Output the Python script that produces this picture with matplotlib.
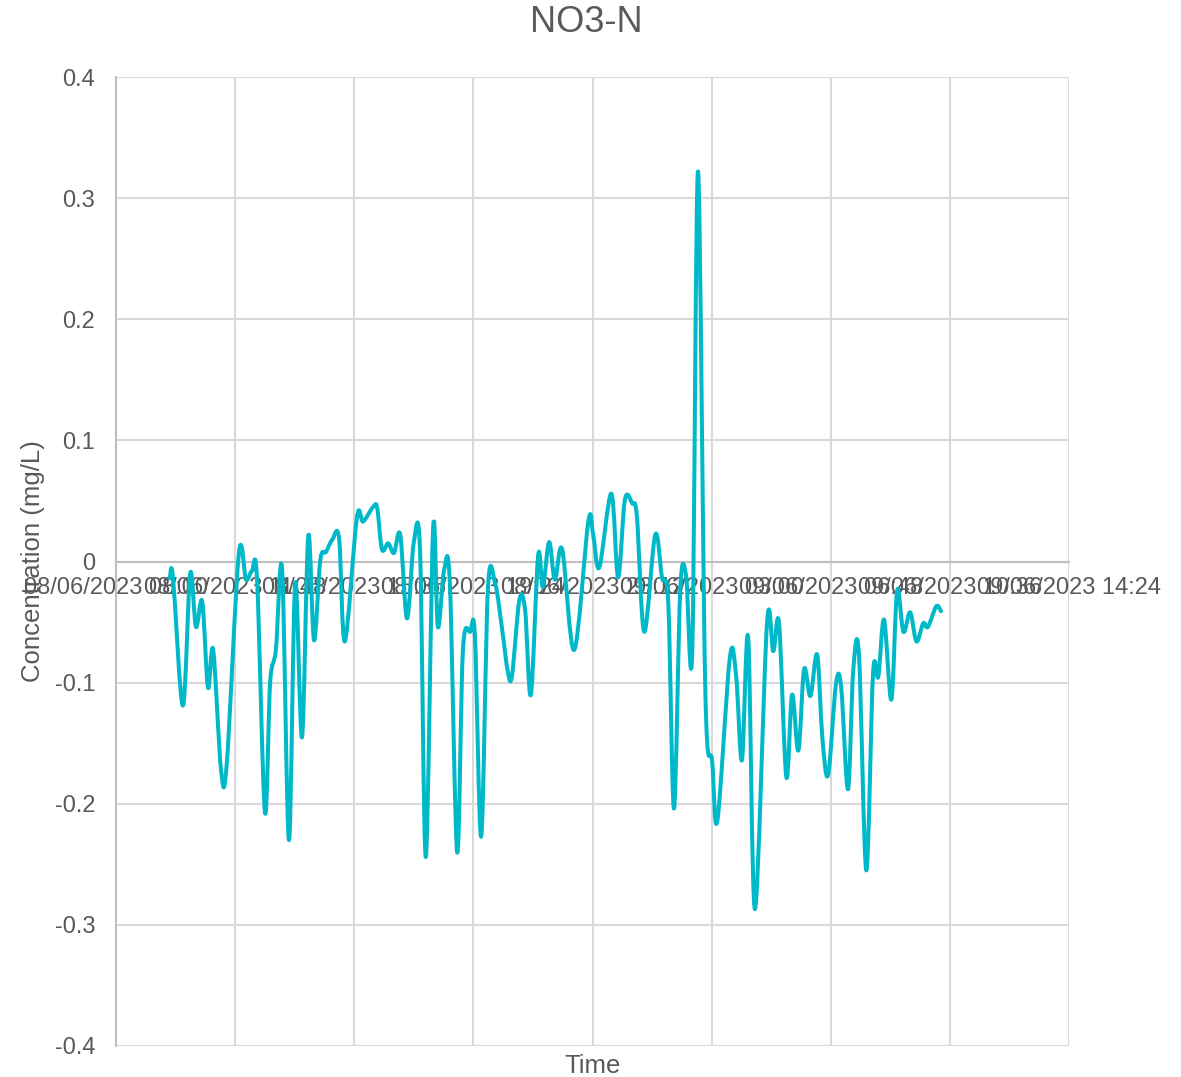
import matplotlib
matplotlib.use("Agg")
import matplotlib.pyplot as plt
import matplotlib.dates as mdates
from matplotlib.path import Path
from matplotlib.patches import PathPatch
import numpy as np
import pandas as pd

# ---- data ----
start_time = "2023-06-08 08:00"
axis_end = "2023-06-09 14:24"
minutes_after_start = [
    103, 109, 128, 142, 153, 165, 176, 186, 201, 212, 235, 249, 260, 270, 285, 295,
    306, 318, 331, 343, 356, 368, 379, 391, 402, 414, 427, 438, 461, 473, 492, 500,
    509, 521, 532, 544, 557, 570, 582, 593, 607, 616, 628, 639, 653, 664, 678, 687,
    699, 712, 726, 739, 750, 758, 772, 783, 794, 808, 817, 829, 840, 854, 877, 904,
    913, 925, 948, 961, 974, 988, 997, 1011, 1032, 1045, 1057, 1068, 1080, 1091, 1103, 1114,
    1128, 1141, 1151, 1175, 1187, 1198, 1210, 1223, 1246, 1258, 1269, 1283, 1294, 1306, 1317, 1329,
    1342, 1352, 1363, 1378, 1388, 1401, 1411, 1422, 1436, 1449, 1459, 1470, 1484, 1495, 1507, 1520,
    1532, 1545, 1554, 1570, 1579,
]
no3_n = [
    -0.014, -0.013, -0.119, -0.010, -0.054, -0.033, -0.104, -0.073, -0.172, -0.167, 0.006, -0.015, -0.008, -0.015, -0.207, -0.100,
    -0.073, -0.007, -0.230, -0.018, -0.145, 0.021, -0.065, 0.001, 0.008, 0.018, 0.019, -0.066, 0.036, 0.033, 0.045, 0.044,
    0.010, 0.015, 0.007, 0.022, -0.047, 0.016, 0.008, -0.244, 0.028, -0.054, -0.007, -0.018, -0.240, -0.073, -0.058, -0.062,
    -0.227, -0.021, -0.019, -0.056, -0.091, -0.094, -0.032, -0.040, -0.110, 0.005, -0.021, 0.016, -0.015, 0.010, -0.073, 0.033,
    0.023, -0.005, 0.056, -0.013, 0.051, 0.048, 0.037, -0.058, 0.022, -0.013, -0.034, -0.204, -0.023, -0.011, -0.073, 0.322,
    -0.108, -0.165, -0.214, -0.079, -0.095, -0.164, -0.063, -0.287, -0.051, -0.074, -0.051, -0.178, -0.110, -0.156, -0.089, -0.111,
    -0.077, -0.146, -0.176, -0.101, -0.104, -0.188, -0.090, -0.077, -0.255, -0.092, -0.095, -0.048, -0.114, -0.024, -0.058, -0.042,
    -0.066, -0.051, -0.054, -0.037, -0.041,
]
y_ticks = [-0.4, -0.3, -0.2, -0.1, 0, 0.1, 0.2, 0.3, 0.4]
y_tick_labels = ["-0.4", "-0.3", "-0.2", "-0.1", "0", "0.1", "0.2", "0.3", "0.4"]
tick_step_minutes = 228

title = "NO3-N"
x_label = "Time"
y_label = "Concentration (mg/L)"

# ---- style ----
plt.rcParams['font.family'] = ['Liberation Sans', 'DejaVu Sans']
text_color = "#595959"
grid_color = "#D9D9D9"
axis_color = "#BFBFBF"
line_color = "#00B9C8"

W, H = 1181, 1077
fig = plt.figure(figsize=(W / 100, H / 100), dpi=100)
ax = fig.add_axes([116 / W, 1 - 1046 / H, (1069 - 116) / W, (1046 - 77) / H])

t0 = pd.Timestamp(start_time)
t_end = pd.Timestamp(axis_end)
times = [t0 + pd.Timedelta(minutes=m) for m in minutes_after_start]
xs = mdates.date2num(times)
ys = np.array(no3_n, dtype=float)

# smoothed line (Catmull-Rom style Bezier, like a spreadsheet "smoothed line")
pts = np.column_stack([xs, ys])
verts = [pts[0]]
codes = [Path.MOVETO]
n = len(pts)
for i in range(n - 1):
    p0 = pts[i - 1] if i > 0 else pts[i]
    p1 = pts[i]
    p2 = pts[i + 1]
    p3 = pts[i + 2] if i + 2 < n else pts[i + 1]
    c1 = p1 + (p2 - p0) / 6.0
    c2 = p2 - (p3 - p1) / 6.0
    verts += [c1, c2, p2]
    codes += [Path.CURVE4] * 3
patch = PathPatch(Path(verts, codes), facecolor="none", edgecolor=line_color,
                  lw=2.9, capstyle="round", joinstyle="round", zorder=3)
ax.add_patch(patch)

x0 = mdates.date2num(t0)
x1 = mdates.date2num(t_end)
ax.set_xlim(x0, x1)
ax.set_ylim(-0.4, 0.4)

xticks = mdates.date2num([t0 + pd.Timedelta(minutes=tick_step_minutes * k) for k in range(9)])
ax.set_xticks(xticks)
ax.xaxis.set_major_formatter(mdates.DateFormatter("%d/%m/%Y %H:%M"))
ax.set_yticks(y_ticks)
ax.set_yticklabels(y_tick_labels)

ax.grid(True, color=grid_color, lw=1.5, zorder=0)
ax.set_axisbelow(True)
for s in ["top", "right"]:
    ax.spines[s].set_visible(False)
ax.spines["bottom"].set_position(("data", 0))
ax.spines["bottom"].set_color(axis_color)
ax.spines["bottom"].set_linewidth(1.5)
ax.spines["left"].set_color(axis_color)
ax.spines["left"].set_linewidth(1.5)

ax.tick_params(axis="both", length=0, labelsize=17, labelcolor=text_color)
ax.tick_params(axis="y", pad=15)
ax.tick_params(axis="x", pad=11)

fig.text(586.5 / W, 1 - 23 / H, title, ha="center", va="center",
         fontsize=26, color=text_color)
ax.text(0.5, -0.0206, x_label, transform=ax.transAxes, ha="center", va="center",
        fontsize=18.5, color=text_color)
fig.text(33 / W, 1 - 561.5 / H, y_label, rotation=90, ha="center", va="center",
         fontsize=18.5, color=text_color)

fig.savefig("out.png", dpi=100, facecolor="white")
